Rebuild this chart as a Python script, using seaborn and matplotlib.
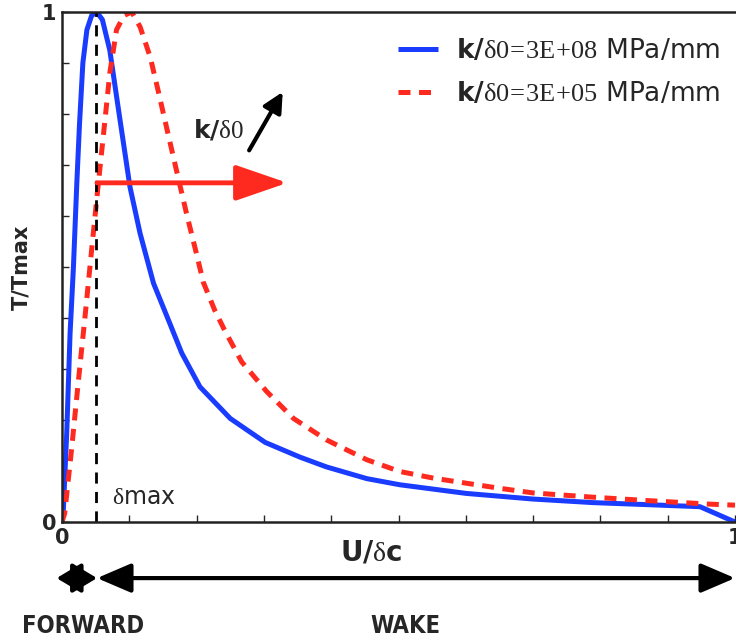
import numpy as np
import pandas as pd
import matplotlib
matplotlib.use("Agg")
import matplotlib.pyplot as plt
import seaborn as sns

# stiff interface, k/d0 = 3E+08 MPa/mm
u_stiff = [0.0, 0.002, 0.007, 0.012, 0.017, 0.022, 0.026, 0.031, 0.037, 0.044, 0.0515,
           0.06, 0.071, 0.084, 0.101, 0.116, 0.136, 0.16, 0.178, 0.205,
           0.25, 0.302, 0.354, 0.393, 0.453, 0.502, 0.601, 0.70, 0.789, 0.87, 0.948, 1.0]
t_stiff = [0.0, 0.024, 0.174, 0.37, 0.5, 0.664, 0.78, 0.90, 0.965, 0.993, 1.0,
           0.985, 0.925, 0.808, 0.657, 0.566, 0.468, 0.39, 0.331, 0.265,
           0.203, 0.156, 0.127, 0.108, 0.085, 0.073, 0.056, 0.045, 0.038, 0.034, 0.030, 0.0]

# soft interface, k/d0 = 3E+05 MPa/mm
u_soft = [0.0, 0.004, 0.014, 0.024, 0.034, 0.044, 0.054, 0.064, 0.071, 0.081, 0.092, 0.1035,
          0.116, 0.131, 0.143, 0.156, 0.17, 0.185, 0.2, 0.21, 0.227, 0.242, 0.267, 0.304,
          0.344, 0.393, 0.453, 0.502, 0.552, 0.601, 0.651, 0.70, 0.785, 0.87, 0.963, 1.0]
t_soft = [0.0, 0.017, 0.14, 0.272, 0.40, 0.533, 0.664, 0.79, 0.88, 0.965, 0.993, 1.0,
          0.971, 0.912, 0.845, 0.77, 0.69, 0.605, 0.525, 0.47, 0.415, 0.375, 0.314, 0.256,
          0.203, 0.161, 0.122, 0.099, 0.086, 0.076, 0.066, 0.057, 0.049, 0.042, 0.035, 0.033]

labels = [r"$\mathbf{k/}\delta0\!=\!3E\!+\!08$ MPa/mm",
          r"$\mathbf{k/}\delta0\!=\!3E\!+\!05$ MPa/mm"]
tick_vals = [round(0.1 * i, 1) for i in range(11)]
tick_labels = ["0"] + [""] * 9 + ["1"]
delta_max = 0.05

sns.set_style("ticks")
plt.rcParams["font.family"] = ["DejaVu Sans"]
plt.rcParams["mathtext.fontset"] = "custom"
plt.rcParams["mathtext.rm"] = "Liberation Serif"
plt.rcParams["mathtext.it"] = "Liberation Serif"
plt.rcParams["mathtext.bf"] = "DejaVu Sans:bold"

df = pd.concat([
    pd.DataFrame({"u": u_stiff, "t": t_stiff, "case": labels[0]}),
    pd.DataFrame({"u": u_soft, "t": t_soft, "case": labels[1]}),
])

fig = plt.figure(figsize=(7.36, 6.44), dpi=100)
ax = fig.add_axes([62 / 736, 122 / 644, 673 / 736, 510 / 644])

sns.lineplot(data=df, x="u", y="t", hue="case", style="case",
             palette=["#1a3cff", "#ff2a1f"], dashes=[(1, 0), (2.4, 1.7)],
             linewidth=3.6, ax=ax, sort=False, estimator=None)

ax.plot([delta_max, delta_max], [0, 1], color="black", lw=2, dashes=(4, 3))

ax.set_xlim(0, 1)
ax.set_ylim(0, 1)
ax.set_xticks(tick_vals)
ax.set_xticklabels(tick_labels)
ax.set_yticks(tick_vals)
ax.set_yticklabels(tick_labels)
ax.tick_params(direction="in", length=5, width=1, labelsize=15, pad=4)
for lab in ax.get_xticklabels() + ax.get_yticklabels():
    lab.set_fontweight("bold")
for s in ["left", "bottom", "top"]:
    ax.spines[s].set_linewidth(1.8)
    ax.spines[s].set_color("#222222")
ax.spines["right"].set_visible(False)

ax.set_xlabel(r"$\mathbf{U/}\delta\mathbf{c}$", fontsize=20)
ax.xaxis.set_label_coords(0.46, -0.033)
ax.set_ylabel("T/Tmax", fontsize=15, fontweight="bold")
ax.yaxis.set_label_coords(-0.045, 0.5)

leg = ax.legend(loc="upper right", bbox_to_anchor=(1.013, 0.995), frameon=False,
                fontsize=19, handlelength=1.5, handletextpad=0.68, labelspacing=0.65)

# annotations
ax.text(0.075, 0.025, r"$\delta$max", fontsize=17, ha="left", va="bottom")
ax.text(0.195, 0.769, r"$\mathbf{k/}\delta0$", fontsize=18, ha="left", va="center")
ax.annotate("", xy=(0.33, 0.848), xytext=(0.276, 0.724),
            arrowprops=dict(arrowstyle="-|>,head_width=0.4,head_length=0.8",
                            color="black", lw=3, mutation_scale=15))
ax.annotate("", xy=(0.335, 0.665), xytext=(0.052, 0.665),
            arrowprops=dict(arrowstyle="-|>,head_width=0.55,head_length=1.6",
                            color="#ff2a1f", lw=3.5, mutation_scale=20,
                            shrinkA=0, shrinkB=0))

# forward / wake regions
ax.annotate("", xy=(-0.008, -0.11), xytext=(0.052, -0.11), xycoords="axes fraction",
            annotation_clip=False,
            arrowprops=dict(arrowstyle="<|-|>,head_width=0.6,head_length=1.0",
                            color="black", lw=3, mutation_scale=15, shrinkA=0, shrinkB=0))
ax.annotate("", xy=(0.052, -0.11), xytext=(1.0, -0.11), xycoords="axes fraction",
            annotation_clip=False,
            arrowprops=dict(arrowstyle="<|-|>,head_width=0.6,head_length=1.4",
                            color="black", lw=3, mutation_scale=15, shrinkA=0, shrinkB=0))
ax.text(0.031, -0.203, "FORWARD", transform=ax.transAxes, fontsize=17,
        fontweight="bold", fontstretch="condensed", ha="center", va="center")
ax.text(0.51, -0.203, "WAKE", transform=ax.transAxes, fontsize=17,
        fontweight="bold", fontstretch="condensed", ha="center", va="center")

fig.savefig("out.png", dpi=100)
